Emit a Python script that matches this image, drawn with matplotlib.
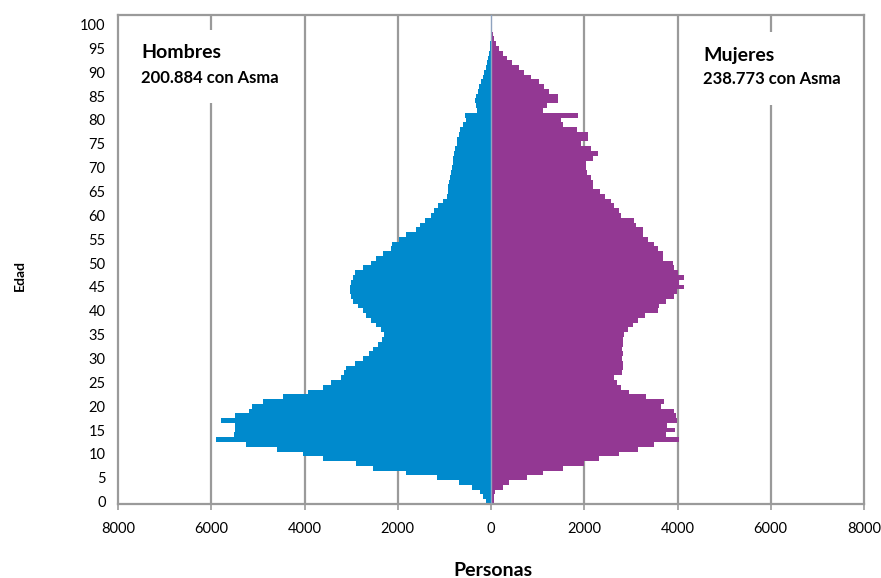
import numpy as np
import matplotlib.pyplot as plt
from matplotlib.patches import Rectangle

# ages 0..100
edades = np.arange(0, 101)

hombres = [100, 165, 237, 417, 683, 1158, 1833, 2524, 2898, 3602,
           4034, 4587, 5249, 5903, 5522, 5500, 5500, 5795, 5500, 5184,
           5127, 4896, 4465, 3919, 3602, 3437, 3221, 3149, 3113, 2912,
           2754, 2624, 2524, 2430, 2337, 2286, 2358, 2466, 2574, 2682,
           2754, 2862, 2955, 3005, 3027, 3027, 3005, 2969, 2912, 2754,
           2574, 2466, 2308, 2143, 2121, 1977, 1833, 1603, 1517, 1424,
           1280, 1222, 1136, 1028, 942, 920, 915, 900, 879, 860,
           843, 822, 808, 790, 772, 722, 722, 679, 665, 593,
           540, 557, 307, 320, 343, 322, 272, 250, 220, 180,
           140, 107, 80, 57, 40, 25, 15, 10, 5, 3, 2]

mujeres = [60, 71, 93, 250, 392, 769, 1107, 1535, 2000, 2322,
           2751, 3144, 3501, 4037, 3760, 3950, 3780, 3980, 3970, 3930,
           3650, 3720, 3323, 2950, 2787, 2694, 2644, 2808, 2830, 2822,
           2800, 2822, 2808, 2830, 2822, 2844, 2930, 3051, 3144, 3308,
           3572, 3594, 3752, 3930, 3980, 4145, 4040, 4145, 4000, 3930,
           3894, 3680, 3680, 3572, 3501, 3358, 3251, 3251, 3109, 3073,
           2780, 2751, 2644, 2573, 2451, 2337, 2180, 2180, 2144, 2051,
           2037, 2036, 2179, 2286, 2143, 1929, 2072, 2072, 1850, 1536,
           1500, 1857, 1107, 1200, 1429, 1429, 1250, 1143, 1036, 850,
           700, 600, 450, 350, 250, 180, 107, 71, 40, 21, 10]

xticks = [-8000, -6000, -4000, -2000, 0, 2000, 4000, 6000, 8000]
yticks = list(range(0, 101, 5))

plt.rcParams['font.family'] = ['Lato', 'DejaVu Sans']

fig = plt.figure(figsize=(8.81, 5.78), dpi=100)
ax = fig.add_axes([118/881, 1-504/578, (864-118)/881, (504-15)/578])

grid_col = '#9a9a9a'
for xv in xticks[1:-1]:
    if xv != 0:
        ax.axvline(xv, color=grid_col, lw=1.6, zorder=1)

ax.barh(edades, -np.array(hombres), height=1.0, color='#008ACD', zorder=2)
ax.barh(edades, mujeres, height=1.0, color='#933893', zorder=2)
ax.axvline(0, color='#8fa3bf', lw=1.0, zorder=3)

# white boxes behind the annotations (they hide the gridlines)
ax.add_patch(Rectangle((-7460, 83.5), 3250, 15.3, facecolor='white',
                       edgecolor='none', zorder=4))
ax.add_patch(Rectangle((4560, 83.2), 3250, 15.3, facecolor='white',
                       edgecolor='none', zorder=4))

ax.text(-7500, 94.1, 'Hombres', fontsize=14, fontweight='bold',
        va='center', ha='left', zorder=5)
ax.text(-7500, 88.8, '200.884 con Asma', fontsize=12, fontweight='bold',
        va='center', ha='left', zorder=5)
ax.text(4550, 93.6, 'Mujeres', fontsize=14, fontweight='bold',
        va='center', ha='left', zorder=5)
ax.text(4550, 88.5, '238.773 con Asma', fontsize=12, fontweight='bold',
        va='center', ha='left', zorder=5)

ax.set_xlim(-8000, 8000)
ax.set_ylim(-0.5, 102)
ax.set_xticks(xticks)
ax.set_xticklabels([str(abs(v)) for v in xticks], fontsize=10.5)
ax.set_yticks(yticks)
ax.set_yticklabels([str(v) for v in yticks], fontsize=10.5)
ax.tick_params(axis='x', direction='out', length=4, color=grid_col, width=1.2, pad=9)
ax.tick_params(axis='y', direction='out', length=0, pad=9)

for s in ax.spines.values():
    s.set_color(grid_col)
    s.set_linewidth(1.6)

fig.text(493/881, 1-571/578, 'Personas', fontsize=14, fontweight='bold',
         ha='center', va='center')
fig.text(20/881, 1-275/578, 'Edad', fontsize=10, fontweight='bold',
         ha='center', va='center', rotation=90)

fig.savefig('out.png', dpi=100)
